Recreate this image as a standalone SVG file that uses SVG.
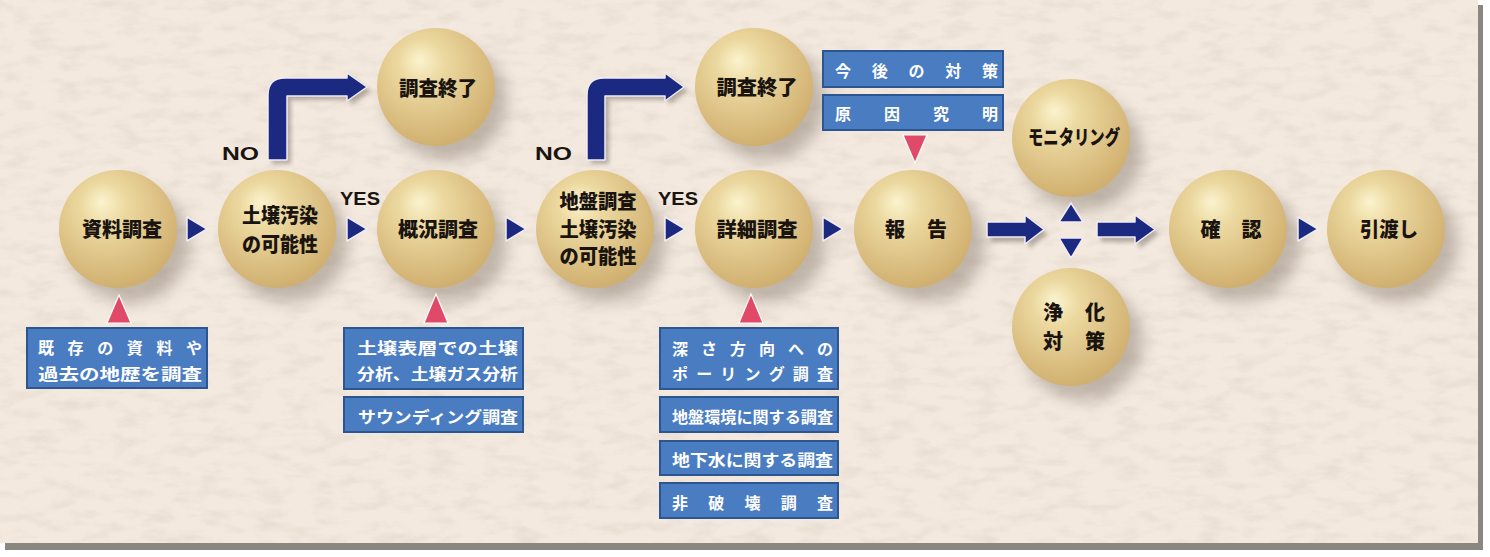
<svg xmlns="http://www.w3.org/2000/svg" width="1490" height="557" viewBox="0 0 1490 557">
<style>
.jp{font-family:"Noto Sans CJK JP","Noto Sans CJK SC",sans-serif;font-weight:900}
.st{fill:#1a1410;font-size:20px}
.bt{fill:#ffffff;font-size:16px;font-weight:bold}
.en{font-family:"Liberation Sans",Arial,sans-serif;font-weight:bold;font-size:19px;fill:#1a1410}
.sph{fill:url(#gold)}
.shd{fill:#6e6052;opacity:0.38;filter:url(#blur)}
.nav{fill:#1b2a80;stroke:#f2ecf4;stroke-width:1.5;stroke-linejoin:round}
.pink{fill:#e04a68;stroke:#ffffff;stroke-width:1.2}
.box{fill:#4a7cc2;stroke:#2d558f;stroke-width:2}
</style>
<defs>
<radialGradient id="gold" cx="0.42" cy="0.36" r="0.64" fx="0.36" fy="0.27">
<stop offset="0" stop-color="#fbf3cf"/>
<stop offset="0.3" stop-color="#ecd9a0"/>
<stop offset="0.72" stop-color="#dcc083"/>
<stop offset="1" stop-color="#d0b070"/>
</radialGradient>
<filter id="blur" x="-50%" y="-50%" width="200%" height="200%"><feGaussianBlur stdDeviation="8"/></filter>
<filter id="sblur" x="-50%" y="-50%" width="200%" height="200%"><feGaussianBlur stdDeviation="2"/></filter>
<filter id="tex" x="0" y="0" width="100%" height="100%">
<feTurbulence type="fractalNoise" baseFrequency="0.035 0.09" numOctaves="4" seed="7"/>
<feColorMatrix type="matrix" values="0 0 0 0 0.62  0 0 0 0 0.54  0 0 0 0 0.44  0 0 0 -2.6 1.45"/>
</filter>
</defs>
<rect x="0" y="0" width="1490" height="557" fill="#ffffff"/>
<rect x="5" y="5" width="1478" height="545" fill="#8a8680"/>
<rect x="0" y="0" width="1478" height="543" fill="#f3e9df"/>
<rect x="0" y="0" width="1478" height="543" filter="url(#tex)" opacity="0.25"/>

<g id="shadows">
<ellipse class="shd" cx="130" cy="244" rx="60" ry="58"/>
<ellipse class="shd" cx="288" cy="244" rx="60" ry="58"/>
<ellipse class="shd" cx="447" cy="102" rx="60" ry="58"/>
<ellipse class="shd" cx="447" cy="244" rx="60" ry="58"/>
<ellipse class="shd" cx="606" cy="244" rx="60" ry="58"/>
<ellipse class="shd" cx="766" cy="102" rx="60" ry="58"/>
<ellipse class="shd" cx="766" cy="244" rx="60" ry="58"/>
<ellipse class="shd" cx="925" cy="244" rx="60" ry="58"/>
<ellipse class="shd" cx="1083" cy="153" rx="60" ry="58"/>
<ellipse class="shd" cx="1083" cy="342" rx="60" ry="58"/>
<ellipse class="shd" cx="1240" cy="244" rx="60" ry="58"/>
<ellipse class="shd" cx="1398" cy="244" rx="60" ry="58"/>
</g>

<g id="connectors">
<g filter="url(#sblur)" fill="#7a7068" opacity="0.5">
<path d="M272,164 L272,99 Q272,82 289,82 L351,82 L351,77 L371,91 L351,105 L351,100 L291,100 L291,164 Z"/>
<path d="M591,164 L591,99 Q591,82 608,82 L669,82 L669,77 L688,91 L669,105 L669,100 L609,100 L609,164 Z"/>
<path d="M991,226 L1029,226 L1029,219 L1048,234 L1029,249 L1029,242 L991,242 Z"/>
<path d="M1101,226 L1139,226 L1139,219 L1159,234 L1139,249 L1139,242 L1101,242 Z"/>
</g>
<path class="nav" d="M268,160 L268,95 Q268,78 285,78 L347,78 L347,73 L367,87 L347,101 L347,96 L287,96 L287,160 Z"/>
<path class="nav" d="M587,160 L587,95 Q587,78 604,78 L665,78 L665,73 L684,87 L665,101 L665,96 L605,96 L605,160 Z"/>
<polygon class="nav" points="187,217 207,229 187,241"/>
<polygon class="nav" points="347,217 367,229 347,241"/>
<polygon class="nav" points="506,217 526,229 506,241"/>
<polygon class="nav" points="665,217 685,229 665,241"/>
<polygon class="nav" points="823,217 843,229 823,241"/>
<polygon class="nav" points="1298,217 1318,229 1298,241"/>
<path class="nav" d="M987,222 L1025,222 L1025,215 L1044,229.5 L1025,244 L1025,237 L987,237 Z"/>
<path class="nav" d="M1097,222 L1135,222 L1135,215 L1155,229.5 L1135,244 L1135,237 L1097,237 Z"/>
<polygon class="nav" points="1059,222 1071,203 1083,222"/>
<polygon class="nav" points="1059,238 1083,238 1071,258"/>
<polygon class="pink" points="107,323 119,295 131,323"/>
<polygon class="pink" points="424,323 436,294 448,323"/>
<polygon class="pink" points="739,323 751,294 763,323"/>
<polygon class="pink" points="903,135 927,135 915,163"/>
<text class="en" x="222" y="160" textLength="37" lengthAdjust="spacingAndGlyphs">NO</text>
<text class="en" x="535" y="160" textLength="37" lengthAdjust="spacingAndGlyphs">NO</text>
<text class="en" x="340" y="205" textLength="40" lengthAdjust="spacingAndGlyphs">YES</text>
<text class="en" x="658" y="205" textLength="40" lengthAdjust="spacingAndGlyphs">YES</text>
</g>

<g id="n-shiryo"><circle class="sph" cx="118" cy="229" r="59"/><text class="jp st" x="122" y="237" text-anchor="middle" textLength="80" lengthAdjust="spacingAndGlyphs">資料調査</text></g>
<g id="n-kanosei1"><circle class="sph" cx="277" cy="229" r="59"/><text class="jp st" x="280" y="223" font-size="19" text-anchor="middle" textLength="76" lengthAdjust="spacingAndGlyphs">土壌汚染</text><text class="jp st" x="280" y="252" font-size="19" text-anchor="middle" textLength="76" lengthAdjust="spacingAndGlyphs">の可能性</text></g>
<g id="n-shuryo1"><circle class="sph" cx="436" cy="87" r="59"/><text class="jp st" x="438" y="96" text-anchor="middle" textLength="78" lengthAdjust="spacingAndGlyphs">調査終了</text></g>
<g id="n-gaikyo"><circle class="sph" cx="436" cy="229" r="59"/><text class="jp st" x="438" y="237" text-anchor="middle" textLength="80" lengthAdjust="spacingAndGlyphs">概況調査</text></g>
<g id="n-jiban"><circle class="sph" cx="595" cy="229" r="59"/><text class="jp st" x="598" y="209" font-size="18" text-anchor="middle" textLength="77" lengthAdjust="spacingAndGlyphs">地盤調査</text><text class="jp st" x="598" y="237" font-size="18" text-anchor="middle" textLength="77" lengthAdjust="spacingAndGlyphs">土壌汚染</text><text class="jp st" x="598" y="264" font-size="18" text-anchor="middle" textLength="77" lengthAdjust="spacingAndGlyphs">の可能性</text></g>
<g id="n-shuryo2"><circle class="sph" cx="754" cy="87" r="59"/><text class="jp st" x="757" y="95" text-anchor="middle" textLength="81" lengthAdjust="spacingAndGlyphs">調査終了</text></g>
<g id="n-shosai"><circle class="sph" cx="754" cy="229" r="59"/><text class="jp st" x="757" y="237" text-anchor="middle" textLength="81" lengthAdjust="spacingAndGlyphs">詳細調査</text></g>
<g id="n-hokoku"><circle class="sph" cx="913" cy="229" r="59"/><text class="jp st" x="916" y="237" text-anchor="middle" textLength="62" lengthAdjust="spacing">報 告</text></g>
<g id="n-monitoring"><circle class="sph" cx="1071" cy="138" r="59"/><text class="jp st" x="1074" y="145" text-anchor="middle" font-size="17" textLength="92" lengthAdjust="spacingAndGlyphs">モニタリング</text></g>
<g id="n-joka"><circle class="sph" cx="1071" cy="327" r="59"/><text class="jp st" x="1074" y="320" text-anchor="middle" textLength="62" lengthAdjust="spacing">浄 化</text><text class="jp st" x="1074" y="349" text-anchor="middle" textLength="62" lengthAdjust="spacing">対 策</text></g>
<g id="n-kakunin"><circle class="sph" cx="1228" cy="229" r="59"/><text class="jp st" x="1231" y="237" text-anchor="middle" textLength="61" lengthAdjust="spacing">確 認</text></g>
<g id="n-hikiwatashi"><circle class="sph" cx="1386" cy="229" r="59"/><text class="jp st" x="1389" y="237" text-anchor="middle" textLength="58" lengthAdjust="spacingAndGlyphs">引渡し</text></g>

<g id="b-kizon"><rect class="box" x="27" y="328" width="180" height="60"/><text class="jp bt" x="38" y="354" textLength="164" lengthAdjust="spacing">既 存 の 資 料 や</text><text class="jp bt" x="38" y="380" textLength="164" lengthAdjust="spacingAndGlyphs">過去の地歴を調査</text></g>
<g id="b-hyoso"><rect class="box" x="344" y="328" width="179" height="61"/><text class="jp bt" x="357" y="354" textLength="161" lengthAdjust="spacingAndGlyphs">土壌表層での土壌</text><text class="jp bt" x="357" y="380" textLength="161" lengthAdjust="spacingAndGlyphs">分析、土壌ガス分析</text></g>
<g id="b-sounding"><rect class="box" x="344" y="397" width="179" height="35"/><text class="jp bt" x="358" y="423" textLength="160" lengthAdjust="spacingAndGlyphs">サウンディング調査</text></g>
<g id="b-boring"><rect class="box" x="660" y="328" width="178" height="61"/><text class="jp bt" x="672" y="355" textLength="161" lengthAdjust="spacing">深 さ 方 向 へ の</text><text class="jp bt" x="672" y="380" textLength="161" lengthAdjust="spacing">ポ ー リ ン グ 調 査</text></g>
<g id="b-jibankankyo"><rect class="box" x="660" y="397" width="178" height="35"/><text class="jp bt" x="672" y="423" textLength="161" lengthAdjust="spacingAndGlyphs">地盤環境に関する調査</text></g>
<g id="b-chikasui"><rect class="box" x="660" y="441" width="178" height="34"/><text class="jp bt" x="672" y="466" textLength="161" lengthAdjust="spacingAndGlyphs">地下水に関する調査</text></g>
<g id="b-hihakai"><rect class="box" x="660" y="483" width="178" height="35"/><text class="jp bt" x="672" y="509" textLength="161" lengthAdjust="spacing">非 破 壊 調 査</text></g>
<g id="b-kongo"><rect class="box" x="823" y="51" width="180" height="36"/><text class="jp bt" x="835" y="77" textLength="163" lengthAdjust="spacing">今 後 の 対 策</text></g>
<g id="b-genin"><rect class="box" x="823" y="95" width="180" height="35"/><text class="jp bt" x="835" y="120" textLength="163" lengthAdjust="spacing">原 因 究 明</text></g>
</svg>
